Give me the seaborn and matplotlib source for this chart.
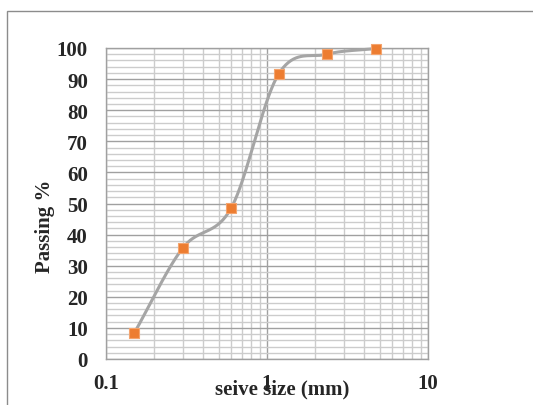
import numpy as np
import matplotlib
matplotlib.use("Agg")
import matplotlib.pyplot as plt
import seaborn as sns
import pandas as pd
from matplotlib.patches import Rectangle
from matplotlib.ticker import LogLocator, FixedLocator, NullFormatter, FixedFormatter

sieve_mm = [0.15, 0.3, 0.6, 1.18, 2.36, 4.75]
passing = [8.4, 35.7, 48.6, 91.6, 98.0, 99.8]
x_ticks = [0.1, 1, 10]
x_tick_labels = ["0.1", "1", "10"]
y_ticks = list(range(0, 101, 10))

sns.set_style("white")
plt.rcParams['font.family'] = ['Liberation Serif', 'DejaVu Serif']
plt.rcParams['font.weight'] = 'bold'

fig = plt.figure(figsize=(5.33, 4.06), dpi=100)
ax = fig.add_axes([106/533, 1-360/406, (428-106)/533, (360-49)/406])

# smooth curve (Catmull-Rom in log-x space) for the connecting line
lx = np.log10(sieve_mm)
py = np.array(passing, dtype=float)
P = np.column_stack([lx, py])
P_ext = np.vstack([2*P[0]-P[1], P, 2*P[-1]-P[-2]])
curve = []
for i in range(1, len(P_ext)-2):
    p0, p1, p2, p3 = P_ext[i-1], P_ext[i], P_ext[i+1], P_ext[i+2]
    t = np.linspace(0, 1, 40)[:, None]
    seg = 0.5*((2*p1) + (-p0+p2)*t + (2*p0-5*p1+4*p2-p3)*t**2 + (-p0+3*p1-3*p2+p3)*t**3)
    curve.append(seg)
curve = np.vstack(curve)
smooth = pd.DataFrame({"x": 10**curve[:, 0], "y": curve[:, 1]})
ax.plot(smooth["x"], smooth["y"], color="#a5a5a5", lw=2.2, zorder=3, clip_on=False)

df = pd.DataFrame({"sieve": sieve_mm, "passing": passing})
sc = sns.scatterplot(data=df, x="sieve", y="passing", ax=ax, marker="s", s=60,
                     color="#ed7d31", edgecolor="#f4a46e", linewidth=0.8, zorder=4)
for coll in ax.collections:
    coll.set_clip_on(False)

ax.set_xscale("log")
ax.set_xlim(0.1, 10)
ax.set_ylim(0, 100)

ax.xaxis.set_major_locator(FixedLocator(x_ticks))
ax.xaxis.set_major_formatter(FixedFormatter(x_tick_labels))
ax.xaxis.set_minor_locator(LogLocator(base=10, subs=np.arange(2, 10)))
ax.xaxis.set_minor_formatter(NullFormatter())
ax.yaxis.set_major_locator(FixedLocator(y_ticks))
ax.yaxis.set_minor_locator(FixedLocator(list(range(0, 101, 2))))

ax.grid(which="major", color="#a0a0a0", lw=1.0, zorder=1)
ax.grid(which="minor", color="#cccccc", lw=1.0, zorder=0)
ax.set_axisbelow(True)

for s in ["left", "bottom", "top", "right"]:
    ax.spines[s].set_color("#a0a0a0")
    ax.spines[s].set_linewidth(1.0)

ax.tick_params(axis="x", which="major", length=5, color="#a0a0a0", width=1, labelsize=15, pad=5)
ax.tick_params(axis="x", which="minor", length=0)
ax.tick_params(axis="y", which="both", length=0, labelsize=15, pad=13)
for lab in ax.get_xticklabels() + ax.get_yticklabels():
    lab.set_fontweight("bold")

ax.set_xlabel("")
ax.set_ylabel("")
fig.text(282/533, 1-389/406, "seive size (mm)", ha="center", va="center", fontsize=15, fontweight="bold")
fig.text(45/533, 1-226/406, "Passing %", ha="center", va="center", rotation=90, fontsize=15, fontweight="bold")

fig.patches.append(Rectangle((7/533, -0.05), 1.2, 1-12/406+0.05, transform=fig.transFigure,
                             fill=False, edgecolor="#8c8c8c", lw=1.0, zorder=-1))

fig.savefig("out.png", dpi=100)
